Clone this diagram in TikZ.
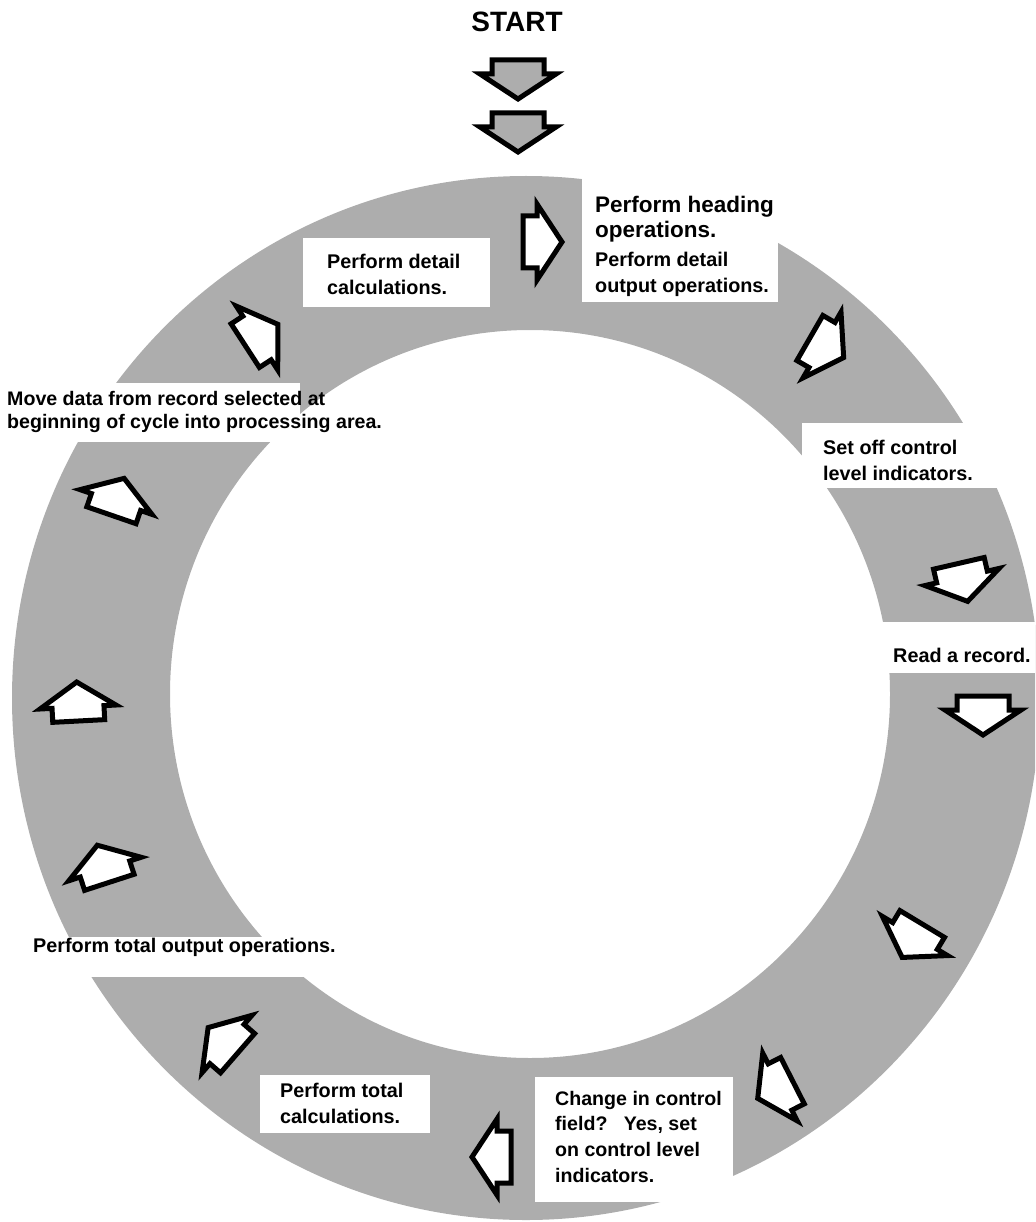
\documentclass[tikz,border=0pt]{standalone}
\usepackage{fontspec}
\setmainfont{Liberation Sans}
\definecolor{ringgray}{gray}{0.68}

% one house-shaped arrow: name, x, y, direction (degrees), fill colour
\newcommand\flowarrow[5]{%
  \draw[arrowline, fill=#5, shift={(#2,#3)}, rotate=#4]
    (25,0) coordinate (#1) -- (0,38) -- (0,26) -- (-14,26) -- (-14,-26)
    -- (0,-26) -- (0,-38) -- cycle;}

\begin{document}
\begin{tikzpicture}[x=1pt,y=-1pt,
  arrowline/.style={draw=black, line width=5pt, line join=miter, miter limit=12},
  lbl/.style={inner sep=0pt, anchor=base west, font=\bfseries\fontsize{19.8}{26}\selectfont},
  whitebox/.style={fill=white}]
\useasboundingbox (0,0) rectangle (1035,1222);
\clip (0,0) rectangle (1035,1222);

% the gray ring
\fill[ringgray, even odd rule]
  (526,698) ellipse [x radius=514pt, y radius=522pt]
  (530,694) ellipse [x radius=360pt, y radius=364pt];

% white panels cut into the ring behind the labels
\fill[whitebox] (303,238) rectangle (490,307);
\fill[whitebox] (582,150) rectangle (778,302);
\fill[whitebox] (802,423) rectangle (1035,488);
\fill[whitebox] (860,622) rectangle (1035,673);
\fill[whitebox] (0,383) rectangle (300,442);
\fill[whitebox] (0,937) rectangle (350,977);
\fill[whitebox] (260,1075) rectangle (430,1133);
\fill[whitebox] (535,1077) rectangle (733,1202);

% entry arrows
\node[inner sep=0pt, anchor=base, font=\bfseries\fontsize{28}{30}\selectfont] (start) at (517,32) {START};
\flowarrow{s1}{518}{74}{-90}{ringgray}
\flowarrow{s2}{518}{127}{-90}{ringgray}

% arrows running clockwise round the ring
\flowarrow{a1}{537}{242}{0}{white}
\flowarrow{a2}{822}{345}{-30}{white}
\flowarrow{a3}{962}{577}{-77}{white}
\flowarrow{a4}{983}{710}{-90}{white}
\flowarrow{a5}{915}{936}{-121}{white}
\flowarrow{a6}{780}{1087}{-153}{white}
\flowarrow{a7}{497}{1157}{180}{white}
\flowarrow{a8}{227}{1044}{139}{white}
\flowarrow{a9}{105}{869}{108}{white}
\flowarrow{a10}{78}{707}{93}{white}
\flowarrow{a11}{116}{502}{71}{white}
\flowarrow{a12}{257}{338}{33}{white}

% labels
\node[lbl, font=\bfseries\fontsize{22.5}{25}\selectfont] (heading) at (595,213)
  {\vtop{\hbox{Perform heading}\hbox{operations.}}};
\node[lbl] (detailout) at (595,267)
  {\vtop{\hbox{Perform detail}\hbox{output operations.}}};
\node[lbl] (detailcalc) at (327,269)
  {\vtop{\hbox{Perform detail}\hbox{calculations.}}};
\node[lbl] (setoff) at (823,454)
  {\vtop{\hbox{Set off control}\hbox{level indicators.}}};
\node[lbl] (read) at (893,662) {Read a record.};
\node[lbl, font=\bfseries\fontsize{19.6}{23}\selectfont] (move) at (7,405)
  {\vtop{\hbox{Move data from record selected at}\hbox{beginning of cycle into processing area.}}};
\node[lbl] (totalout) at (33,952) {Perform total output operations.};
\node[lbl] (totalcalc) at (280,1097)
  {\vtop{\hbox{Perform total}\hbox{calculations.}}};
\node[lbl, font=\bfseries\fontsize{19.6}{25.7}\selectfont] (change) at (555,1105)
  {\vtop{\hbox{Change in control}\hbox{field?\ \ \ Yes, set}\hbox{on control level}\hbox{indicators.}}};
\end{tikzpicture}
\end{document}
